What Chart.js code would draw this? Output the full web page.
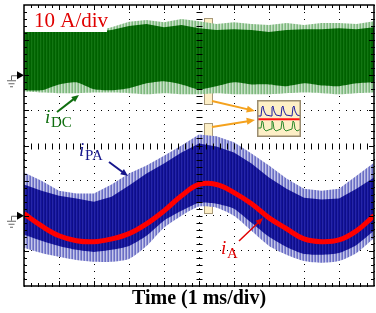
<!DOCTYPE html>
<html>
<head>
<meta charset="utf-8">
<script src="https://cdn.jsdelivr.net/npm/chart.js@4.4.1/dist/chart.umd.min.js"></script>
<style>
  html, body { margin: 0; padding: 0; background: #fff; }
  #wrap { position: relative; width: 376px; height: 313px; }
  #inset { position: absolute; left: 257px; top: 100px; }
</style>
</head>
<body>
<div id="wrap">
  <canvas id="scope" width="376" height="313"></canvas>
  <canvas id="inset" width="44" height="37"></canvas>
</div>
<script>
// time axis, ms (1 ms/div)
const TIME = [0, 0.5, 1, 1.5, 2, 2.5, 3, 3.5, 4, 4.5, 5, 5.5, 6, 6.5, 7, 7.5, 8, 8.5, 9, 9.5, 10];

// iDC envelopes (A, relative to channel ground)
const DC_LIGHT_HI = [12.4, 12.4, 12.4, 12.4, 12.4, 13.7, 15.2, 15.7, 15.1, 16.0, 15.4, 14.6, 15.1, 14.6, 14.3, 14.9, 14.3, 14.9, 14.9, 14.6, 15.4];
const DC_DARK_HI = [12.4, 12.4, 12.4, 12.4, 12.4, 12.9, 14.0, 14.6, 13.7, 14.3, 13.4, 12.9, 13.1, 12.9, 12.3, 12.9, 13.1, 13.1, 13.4, 13.1, 13.7];
const DC_DARK_LO = [-4.3, -4.3, -2.6, -2.0, -4.0, -4.3, -3.7, -2.3, -1.7, -2.6, -4.0, -3.1, -2.0, -2.6, -2.6, -3.1, -2.3, -2.9, -3.1, -2.3, -2.0];
const DC_LIGHT_LO = [-4.6, -4.9, -5.1, -5.1, -4.9, -4.9, -5.1, -5.4, -5.1, -5.4, -5.4, -5.1, -5.4, -5.4, -5.4, -5.1, -4.9, -5.1, -5.4, -5.1, -4.9];

// iPA envelopes (A)
const PA_LIGHT_HI = [12.3, 10.0, 7.1, 6.3, 6.3, 8.9, 12.0, 14.3, 17.1, 20.0, 23.1, 22.6, 20.9, 17.7, 14.3, 10.6, 7.7, 7.1, 7.7, 11.4, 15.1];
const PA_DARK_HI = [8.9, 7.1, 5.7, 4.9, 4.0, 5.4, 8.6, 12.0, 14.9, 18.0, 20.6, 19.7, 18.0, 14.9, 10.9, 7.7, 5.1, 4.6, 4.9, 7.7, 10.9];
const PA_DARK_LO = [-5.4, -7.1, -8.6, -9.7, -10.3, -9.7, -8.6, -5.7, -1.4, 1.4, 3.7, 3.4, 2.0, -2.0, -6.0, -8.9, -10.9, -11.1, -10.6, -8.3, -4.3];
const PA_LIGHT_LO = [-9.1, -10.6, -11.7, -12.6, -13.1, -13.1, -12.3, -8.6, -3.4, 0, 2.6, 2.3, 0, -4.3, -8.6, -11.1, -12.9, -13.4, -12.9, -10.6, -6.3];

// iA (A)
const IA = [0.6, -2.9, -5.7, -7.1, -7.4, -6.6, -5.1, -2.3, 1.4, 5.7, 8.9, 8.9, 6.6, 3.4, -0.6, -3.7, -6.6, -7.4, -6.9, -4.3, 0.0];

// zoomed inset: a few switching periods
const INSET_T = [0, 4, 5, 6, 7, 9, 14, 15, 16, 17, 19, 24, 25, 26, 27, 29, 35, 36, 37, 38, 40, 44];
const INSET_PA = [2.5, 2.5, 11.5, 12.5, 7.5, 3.5, 2.5, 11.5, 12.5, 7.5, 3.5, 2.5, 11.5, 12.5, 7.5, 3.5, 2.5, 11.5, 12.5, 7.5, 3.5, 2.5];
const INSET_DC = [-9.5, -9.5, -2.5, -3.5, -10.5, -12.5, -10.5, -2.5, -3.5, -10.5, -12.5, -10.5, -2.5, -3.5, -10.5, -12.5, -10.5, -2.5, -3.5, -10.5, -12.5, -10.5];
const INSET_A = [-0.8, -0.8, -0.8, -0.8, -0.8, -0.8, -0.8, -0.8, -0.8, -0.8, -0.8, -0.8, -0.8, -0.8, -0.8, -0.8, -0.8, -0.8, -0.8, -0.8, -0.8, -0.8];

const AMP_PER_DIV = 10;
const DC_GROUND = 6; // div from bottom
const PA_GROUND = 2;

const SERIF = '"Liberation Serif", "Times New Roman", serif';

function pts(values, ground) {
  return TIME.map((t, i) => ({ x: t, y: ground + values[i] / AMP_PER_DIV }));
}

// vertical stripe pattern to mimic the switching ripple
function stripes(colors) {
  const c = document.createElement("canvas");
  c.width = colors.length;
  c.height = 4;
  const g = c.getContext("2d");
  colors.forEach((col, i) => {
    g.fillStyle = col;
    g.fillRect(i, 0, 1, 4);
  });
  return g.createPattern(c, "repeat");
}

const greenLight = stripes(["#7fb77f", "#c9e2c9", "#9ccb9c"]);
const greenDark = stripes(["#006000", "#137613", "#046804"]);
const blueLight = stripes(["#6a6ec4", "#c4c6ea", "#8e91d4"]);
const blueDark = stripes(["#0e0e88", "#2626a8", "#13139a"]);

function edge(data, order) {
  return { data, borderWidth: 0, pointRadius: 0, fill: false, order };
}
function band(data, color, order) {
  return { data, borderWidth: 0, pointRadius: 0, fill: "-1", backgroundColor: color, tension: 0.2, order };
}

function arrow(ctx, x1, y1, x2, y2, color, width, head) {
  const a = Math.atan2(y2 - y1, x2 - x1);
  ctx.strokeStyle = color;
  ctx.fillStyle = color;
  ctx.lineWidth = width;
  ctx.beginPath();
  ctx.moveTo(x1, y1);
  ctx.lineTo(x2 - Math.cos(a) * head * 0.8, y2 - Math.sin(a) * head * 0.8);
  ctx.stroke();
  ctx.beginPath();
  ctx.moveTo(x2, y2);
  ctx.lineTo(x2 - head * Math.cos(a - 0.4), y2 - head * Math.sin(a - 0.4));
  ctx.lineTo(x2 - head * Math.cos(a + 0.4), y2 - head * Math.sin(a + 0.4));
  ctx.closePath();
  ctx.fill();
}

function label(ctx, x, y, sub, color) {
  ctx.fillStyle = color;
  ctx.textBaseline = "alphabetic";
  ctx.textAlign = "left";
  ctx.font = "italic 19px " + SERIF;
  ctx.fillText("i", x, y);
  ctx.font = "15px " + SERIF;
  ctx.fillText(sub, x + 6, y + 4);
}

function groundMark(ctx, x, y) {
  ctx.fillStyle = "#000";
  ctx.beginPath();
  ctx.moveTo(x, y);
  ctx.lineTo(x - 7, y - 4);
  ctx.lineTo(x - 7, y + 4);
  ctx.closePath();
  ctx.fill();
  ctx.strokeStyle = "#666";
  ctx.lineWidth = 1;
  ctx.beginPath();
  ctx.moveTo(x - 7, y + 0.5);
  ctx.lineTo(x - 12.5, y + 0.5);
  ctx.lineTo(x - 12.5, y + 5);
  ctx.moveTo(x - 17, y + 5.5); ctx.lineTo(x - 8, y + 5.5);
  ctx.moveTo(x - 15.5, y + 8.5); ctx.lineTo(x - 9.5, y + 8.5);
  ctx.moveTo(x - 14, y + 11.5); ctx.lineTo(x - 11, y + 11.5);
  ctx.stroke();
}

const scopeDecor = {
  id: "scopeDecor",
  beforeDatasetsDraw(chart) {
    const ctx = chart.ctx;
    ctx.save();
    ctx.fillStyle = "#fdefc6";
    ctx.strokeStyle = "#a8997a";
    ctx.lineWidth = 1;
    ctx.fillRect(204, 18, 8, 86);
    ctx.strokeRect(204.5, 18.5, 8, 86);
    ctx.fillRect(204, 123, 8, 90);
    ctx.strokeRect(204.5, 123.5, 8, 90);
    ctx.restore();
  },
  afterDraw(chart) {
    const ctx = chart.ctx;
    const { left, right, top, bottom } = chart.chartArea;
    const xs = chart.scales.x, ys = chart.scales.y;
    ctx.save();

    // scale note
    ctx.fillStyle = "#fff";
    ctx.fillRect(left + 1, top + 1, 82, 26);
    ctx.fillStyle = "#e00000";
    ctx.font = "21px " + SERIF;
    ctx.textBaseline = "alphabetic";
    ctx.fillText("10 A/div", 34, 27);

    // frame
    ctx.strokeStyle = "#000";
    ctx.lineWidth = 1.5;
    ctx.strokeRect(left, top, right - left, bottom - top);

    // minor ticks on frame and centre cross
    ctx.lineWidth = 1;
    const cx = Math.round(xs.getPixelForValue(5)) + 0.5;
    const cy = Math.round(ys.getPixelForValue(4)) + 0.5;
    ctx.beginPath();
    for (let i = 1; i < 50; i++) {
      const x = Math.round(xs.getPixelForValue(i / 5)) + 0.5;
      const len = i % 5 === 0 ? 5 : 3;
      ctx.moveTo(x, bottom); ctx.lineTo(x, bottom - len);
      ctx.moveTo(x, top); ctx.lineTo(x, top + len);
      ctx.moveTo(x, cy - 3); ctx.lineTo(x, cy + 3);
    }
    for (let j = 1; j < 40; j++) {
      const y = Math.round(ys.getPixelForValue(j / 5)) + 0.5;
      const len = j % 5 === 0 ? 5 : 3;
      ctx.moveTo(left, y); ctx.lineTo(left + len, y);
      ctx.moveTo(right, y); ctx.lineTo(right - len, y);
      ctx.moveTo(cx - 3, y); ctx.lineTo(cx + 3, y);
    }
    ctx.stroke();

    // channel ground markers
    groundMark(ctx, left, ys.getPixelForValue(DC_GROUND));
    groundMark(ctx, left, ys.getPixelForValue(PA_GROUND));

    // trace labels
    label(ctx, 45, 123, "DC", "#0f6e0f");
    arrow(ctx, 57, 112, 79, 95, "#0f6e0f", 2, 8);
    label(ctx, 79, 156, "PA", "#16168c");
    arrow(ctx, 109, 162, 128, 176, "#16168c", 2, 8);
    label(ctx, 221, 254, "A", "#e00000");
    arrow(ctx, 239, 241, 263, 218, "#e00000", 1.5, 8);

    // zoom pointers
    arrow(ctx, 212, 101, 255, 111, "#f4a21e", 2, 9);
    arrow(ctx, 212, 127, 255, 120, "#f4a21e", 2, 9);

    ctx.restore();
  }
};

const gridStyle = { color: "#000", lineWidth: 1, drawTicks: false };

new Chart(document.getElementById("scope"), {
  type: "line",
  data: {
    datasets: [
      edge(pts(DC_LIGHT_HI, DC_GROUND), 6),
      band(pts(DC_LIGHT_LO, DC_GROUND), greenLight, 6),
      edge(pts(DC_DARK_HI, DC_GROUND), 5),
      band(pts(DC_DARK_LO, DC_GROUND), greenDark, 5),
      edge(pts(PA_LIGHT_HI, PA_GROUND), 4),
      band(pts(PA_LIGHT_LO, PA_GROUND), blueLight, 4),
      edge(pts(PA_DARK_HI, PA_GROUND), 3),
      band(pts(PA_DARK_LO, PA_GROUND), blueDark, 3),
      {
        data: pts(IA, PA_GROUND),
        borderColor: "#ff0000",
        borderWidth: 5,
        pointRadius: 0,
        fill: false,
        tension: 0.4,
        order: 0
      }
    ]
  },
  options: {
    responsive: false,
    animation: false,
    devicePixelRatio: 1,
    layout: { padding: { left: 24, right: 2, top: 5, bottom: 2 } },
    plugins: { legend: { display: false }, tooltip: { enabled: false } },
    scales: {
      x: {
        type: "linear",
        min: 0,
        max: 10,
        z: 1,
        ticks: { display: false, stepSize: 1 },
        grid: gridStyle,
        border: { display: false, dash: [1, 6] },
        title: {
          display: true,
          text: "Time (1 ms/div)",
          color: "#000",
          font: { family: SERIF, size: 20, weight: "bold" },
          padding: { top: 1, bottom: 0 }
        }
      },
      y: {
        min: 0,
        max: 8,
        z: 1,
        ticks: { display: false, stepSize: 1 },
        grid: gridStyle,
        border: { display: false, dash: [1, 6] }
      }
    }
  },
  plugins: [scopeDecor]
});

// zoomed inset
const insetFrame = {
  id: "insetFrame",
  beforeDraw(chart) {
    const ctx = chart.ctx;
    ctx.save();
    ctx.fillStyle = "#fdefc6";
    ctx.fillRect(0, 0, chart.width, chart.height);
    ctx.restore();
  },
  afterDraw(chart) {
    const ctx = chart.ctx;
    ctx.save();
    ctx.strokeStyle = "#9a8c70";
    ctx.lineWidth = 1.5;
    ctx.strokeRect(0.75, 0.75, chart.width - 1.5, chart.height - 1.5);
    ctx.restore();
  }
};

function insetPts(values) {
  return INSET_T.map((t, i) => ({ x: t, y: values[i] }));
}

new Chart(document.getElementById("inset"), {
  type: "line",
  data: {
    datasets: [
      { data: insetPts(INSET_A), borderColor: "#ff1010", borderWidth: 2, pointRadius: 0, order: 0 },
      { data: insetPts(INSET_PA), borderColor: "#2020a0", borderWidth: 1, pointRadius: 0, order: 1 },
      { data: insetPts(INSET_DC), borderColor: "#2c8a2c", borderWidth: 1, pointRadius: 0, order: 2 }
    ]
  },
  options: {
    responsive: false,
    animation: false,
    devicePixelRatio: 1,
    layout: { padding: 0 },
    plugins: { legend: { display: false }, tooltip: { enabled: false } },
    scales: {
      x: { type: "linear", min: 0, max: 44, display: false },
      y: { min: -18.5, max: 18.5, display: false }
    }
  },
  plugins: [insetFrame]
});
</script>
</body>
</html>
